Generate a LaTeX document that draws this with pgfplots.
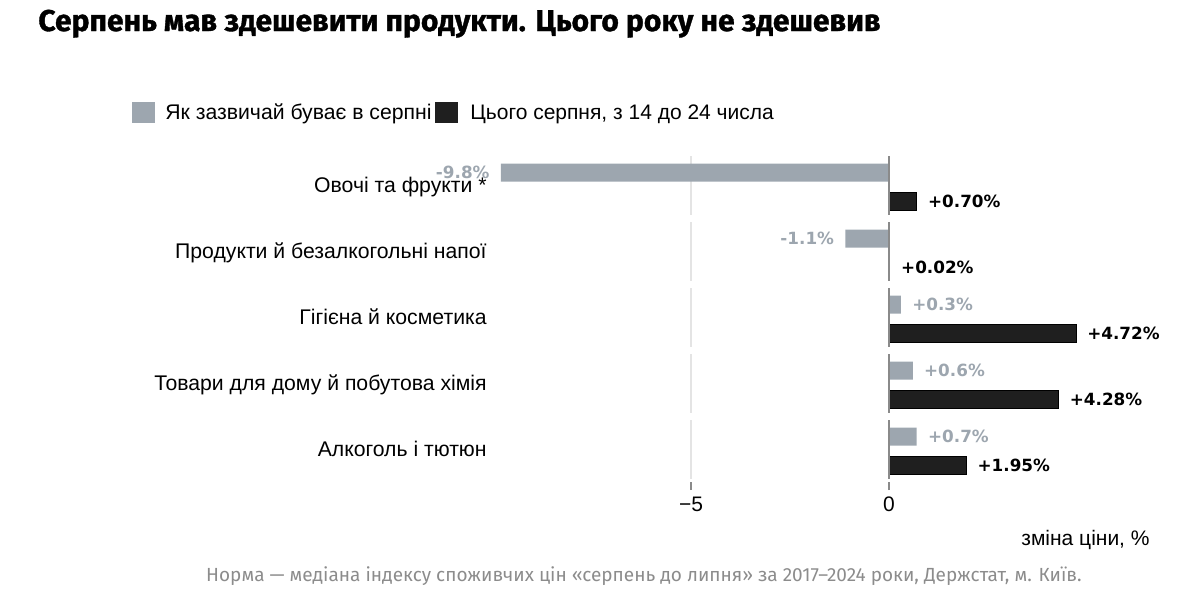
\documentclass[border=0pt]{standalone}
\usepackage{pgfplots}
\pgfplotsset{compat=1.18}
\usepackage{fontspec}
\setmainfont{Liberation Sans}
\newfontfamily\valfont{DejaVu Sans}
\newfontfamily\firafont{Fira Sans}
\newfontfamily\titlefont[BoldFeatures={FakeBold=1.2}]{Fira Sans}
\definecolor{bargray}{HTML}{9DA6AF}
\definecolor{barblack}{HTML}{1F1F1F}
\definecolor{gridc}{HTML}{E4E4E4}
\definecolor{zeroc}{HTML}{8A8A8A}
\definecolor{footc}{HTML}{8C8C8C}
\tikzset{
  vallab/.style={font=\valfont\bfseries\fontsize{8.4}{10}\selectfont, inner xsep=5.5pt, inner ysep=0pt},
}
\begin{document}
\begin{tikzpicture}
\begin{scope}[x=0.5pt,y=-0.5pt]
\path[use as bounding box] (0,0) rectangle (1200,600);
\node[anchor=base west, inner sep=0, font=\titlefont\bfseries\fontsize{15}{17}\selectfont] at (38,31) {Серпень мав здешевити продукти. Цього року не здешевив};
\fill[bargray] (132,102) rectangle (155,123);
\node[anchor=base west, inner sep=0, font=\fontsize{10.6}{12}\selectfont] at (165,119) {Як зазвичай буває в серпні};
\fill[barblack] (435,102) rectangle (458,123);
\node[anchor=base west, inner sep=0, font=\fontsize{10.5}{12}\selectfont] at (470,119) {Цього серпня, з 14 до 24 числа};
\node[anchor=base east, inner sep=0, font=\fontsize{10.6}{12}\selectfont] at (487,192.5) {Овочі та фрукти *};
\node[anchor=base east, inner sep=0, font=\fontsize{10.6}{12}\selectfont] at (487,258.5) {Продукти й безалкогольні напої};
\node[anchor=base east, inner sep=0, font=\fontsize{10.6}{12}\selectfont] at (487,324.5) {Гігієна й косметика};
\node[anchor=base east, inner sep=0, font=\fontsize{10.6}{12}\selectfont] at (487,390.5) {Товари для дому й побутова хімія};
\node[anchor=base east, inner sep=0, font=\fontsize{10.6}{12}\selectfont] at (487,456.5) {Алкоголь і тютюн};
\node[anchor=base east, inner sep=0, font=\fontsize{10.5}{12}\selectfont] at (1150,545) {зміна ціни, \%};
\node[anchor=base, inner sep=0, text=footc, font=\firafont\fontsize{9.5}{12}\selectfont] at (644,581) {Норма — медіана індексу споживчих цін «серпень до липня» за 2017–2024 роки, Держстат, м. Київ.};
\end{scope}
\begin{axis}[at={(246.5pt,-75pt)}, anchor=north west,
  width=297pt, height=166pt, scale only axis,
  xmin=-10, xmax=5, ymin=150, ymax=482, y dir=reverse,
  axis line style={draw=none},
  ytick=\empty,
  xtick={-5,0}, xticklabels={−5,0},
  tick align=outside, xtick pos=left,
  major tick length=4pt,
  tick style={zeroc, line width=0.6pt},
  xticklabel style={font=\fontsize{10.5}{12}\selectfont, text=black},
  clip=false,
  unbounded coords=jump,
]
\addplot[gridc, line width=0.6pt, forget plot] coordinates {(-5,156) (-5,215) (-5,nan) (-5,222) (-5,281) (-5,nan) (-5,288) (-5,347) (-5,nan) (-5,354) (-5,413) (-5,nan) (-5,420) (-5,479)};
% gray, negative values
\addplot[xbar, bar width=18, bar shift=0, fill=bargray, draw=none,
  point meta=explicit symbolic, nodes near coords,
  every node near coord/.append style={vallab, text=bargray, anchor=east}]
  coordinates {(-9.8,172.5) [-9.8\%] (-1.1,238.5) [-1.1\%]};
% gray, positive values
\addplot[xbar, bar width=18, bar shift=0, fill=bargray, draw=none,
  point meta=explicit symbolic, nodes near coords,
  every node near coord/.append style={vallab, text=bargray, anchor=west}]
  coordinates {(0.3,304.5) [+0.3\%] (0.6,370.5) [+0.6\%] (0.7,436.5) [+0.7\%]};
% black
\addplot[xbar, bar width=18, bar shift=0, fill=barblack, draw=black, line width=0.4pt,
  point meta=explicit symbolic, nodes near coords,
  every node near coord/.append style={vallab, text=black, anchor=west}]
  coordinates {(0.70,201) [+0.70\%] (0.02,267) [+0.02\%] (4.72,333) [+4.72\%] (4.28,399) [+4.28\%] (1.95,465) [+1.95\%]};
\addplot[zeroc, line width=0.7pt, forget plot] coordinates {(0,156) (0,215) (0,nan) (0,222) (0,281) (0,nan) (0,288) (0,347) (0,nan) (0,354) (0,413) (0,nan) (0,420) (0,479)};
\end{axis}
\end{tikzpicture}
\end{document}
